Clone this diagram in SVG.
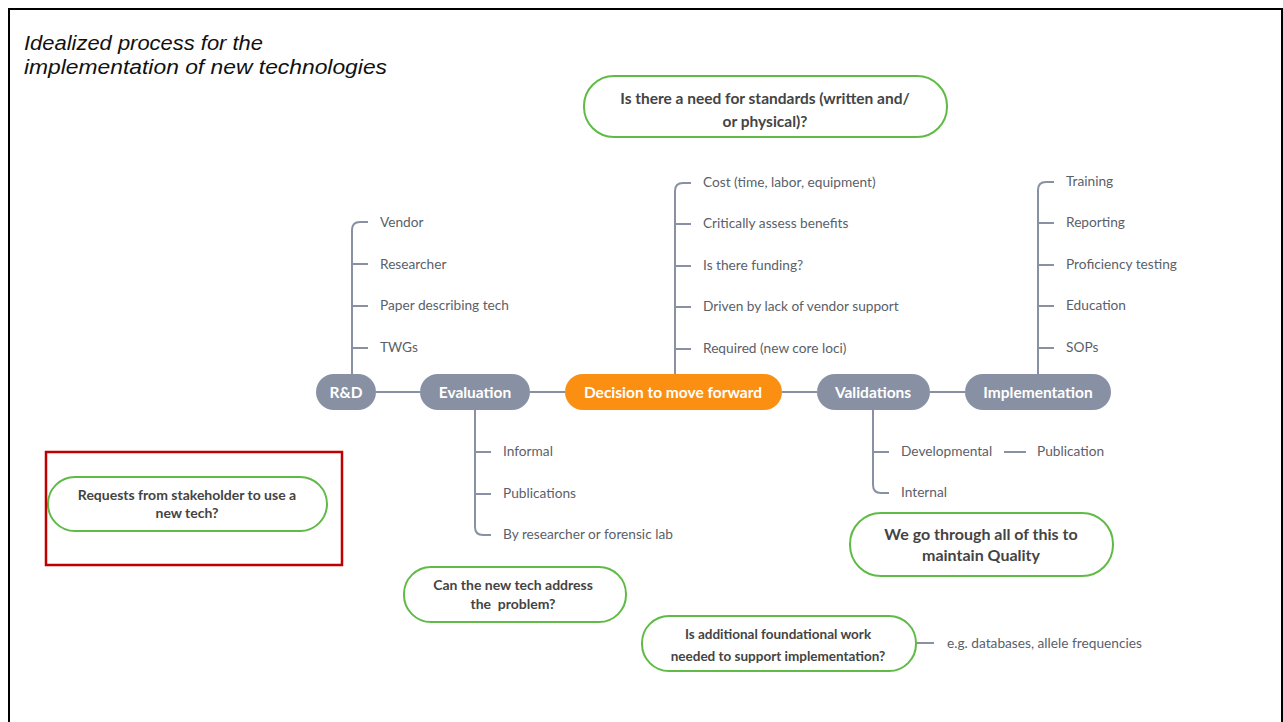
<svg xmlns="http://www.w3.org/2000/svg" width="1283" height="722" viewBox="0 0 1283 722">
<style>
.title{font-family:"Liberation Sans",Arial,sans-serif;font-style:italic;font-size:20px;fill:#111}
.node rect{fill:#8891a3}
.node text{font-family:Lato,"Open Sans",sans-serif;font-weight:bold;font-size:15.5px;fill:#fff;text-anchor:middle}
#decision rect{fill:#fb8f12}
.q rect{fill:#fff;stroke:#5fbb46;stroke-width:2}
.q text{font-family:Lato,"Open Sans",sans-serif;font-weight:bold;font-size:14px;fill:#444;text-anchor:middle}
.lbl{font-family:Lato,"Open Sans",sans-serif;font-size:13.7px;fill:#5a5f6a}
.ln{fill:none;stroke:#8891a3;stroke-width:2}
</style>
<rect width="1283" height="722" fill="#fff"/>
<path d="M9,722 V9 H1282 V722" fill="none" stroke="#000" stroke-width="2"/>
<text class="title" x="24" y="50" textLength="239" lengthAdjust="spacingAndGlyphs">Idealized process for the</text>
<text class="title" x="24" y="74" textLength="363" lengthAdjust="spacingAndGlyphs">implementation of new technologies</text>

<g id="connectors" class="ln">
<path d="M376,392 H420 M530,392 H565 M782,392 H817 M930,392 H965"/>
<path d="M352,374 V230 Q352,222 360,222 H368 M352,264 H368 M352,306 H368 M352,348 H368"/>
<path d="M675,374 V191 Q675,183 683,183 H691 M675,224 H691 M675,266 H691 M675,307 H691 M675,349 H691"/>
<path d="M1038,374 V190 Q1038,182 1046,182 H1054 M1038,223 H1054 M1038,265 H1054 M1038,306 H1054 M1038,348 H1054"/>
<path d="M475,410 V527 Q475,535 483,535 H491 M475,452 H491 M475,494 H491"/>
<path d="M873,410 V485 Q873,493 881,493 H889 M873,452 H889 M1004,452 H1026"/>
<path d="M917,643 H934"/>
</g>

<g id="rd" class="node"><rect x="316" y="374" width="60" height="36" rx="18"/><text x="346" y="397.5">R&amp;D</text></g>
<g id="evaluation" class="node"><rect x="420" y="374" width="110" height="36" rx="18"/><text x="475" y="397.5">Evaluation</text></g>
<g id="decision" class="node"><rect x="565" y="374" width="217" height="36" rx="18"/><text x="673" y="397.5">Decision to move forward</text></g>
<g id="validations" class="node"><rect x="817" y="374" width="113" height="36" rx="18"/><text x="873" y="397.5">Validations</text></g>
<g id="implementation" class="node"><rect x="965" y="374" width="146" height="36" rx="18"/><text x="1038" y="397.5">Implementation</text></g>

<g id="rd-items">
<text class="lbl" x="380" y="227">Vendor</text>
<text class="lbl" x="380" y="269">Researcher</text>
<text class="lbl" x="380" y="310">Paper describing tech</text>
<text class="lbl" x="380" y="352">TWGs</text>
</g>
<g id="decision-items">
<text class="lbl" x="703" y="187">Cost (time, labor, equipment)</text>
<text class="lbl" x="703" y="228">Critically assess benefits</text>
<text class="lbl" x="703" y="270">Is there funding?</text>
<text class="lbl" x="703" y="311">Driven by lack of vendor support</text>
<text class="lbl" x="703" y="353">Required (new core loci)</text>
</g>
<g id="implementation-items">
<text class="lbl" x="1066" y="186">Training</text>
<text class="lbl" x="1066" y="227">Reporting</text>
<text class="lbl" x="1066" y="269">Proficiency testing</text>
<text class="lbl" x="1066" y="310">Education</text>
<text class="lbl" x="1066" y="352">SOPs</text>
</g>
<g id="evaluation-items">
<text class="lbl" x="503" y="456">Informal</text>
<text class="lbl" x="503" y="498">Publications</text>
<text class="lbl" x="503" y="539">By researcher or forensic lab</text>
</g>
<g id="validation-items">
<text class="lbl" x="901" y="456">Developmental</text>
<text class="lbl" x="1037" y="456">Publication</text>
<text class="lbl" x="901" y="497">Internal</text>
</g>

<g id="q-standards" class="q"><rect x="584" y="76" width="363" height="61" rx="30"/><text x="765" y="104" style="font-size:15.5px">Is there a need for standards (written and/</text><text x="765" y="127" style="font-size:15.5px">or physical)?</text></g>
<g id="q-requests" class="q"><rect x="48" y="477" width="279" height="54" rx="27"/><text x="187" y="500">Requests from stakeholder to use a</text><text x="187" y="518">new tech?</text></g>
<rect id="highlight" x="46" y="452" width="296" height="113" fill="none" stroke="#c00000" stroke-width="2.5"/>
<g id="q-address" class="q"><rect x="404" y="567" width="222" height="55" rx="27"/><text x="513" y="590">Can the new tech address</text><text x="513" y="609" style="white-space:pre">the  problem?</text></g>
<g id="q-quality" class="q"><rect x="850" y="513" width="263" height="63" rx="31"/><text x="981" y="540" style="font-size:16px">We go through all of this to</text><text x="981" y="561" style="font-size:16px">maintain Quality</text></g>
<g id="q-foundational" class="q"><rect x="642" y="616" width="274" height="55" rx="27"/><text x="778" y="639" style="font-size:13.5px">Is additional foundational work</text><text x="778" y="661" style="font-size:13.5px">needed to support implementation?</text></g>
<text class="lbl" x="947" y="648">e.g. databases, allele frequencies</text>
</svg>
